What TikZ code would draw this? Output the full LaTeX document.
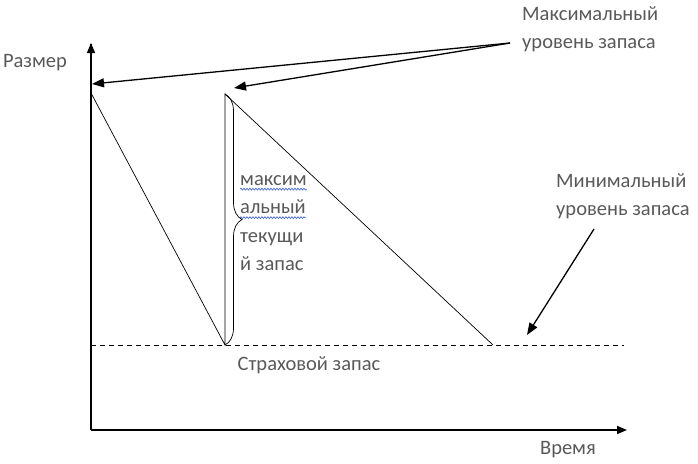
\documentclass[tikz,border=0pt]{standalone}
\usepackage{fontspec}
\setmainfont{Carlito}
\usepackage{tikz}
\usetikzlibrary{arrows.meta,decorations.pathreplacing,decorations.pathmorphing}

\definecolor{labelgray}{HTML}{595959}
\definecolor{spellblue}{HTML}{4A6CD4}

% wavy spell-check underline
\newcommand\spellwave[1]{\tikz[baseline=(w.base)]{\node[inner sep=0pt] (w) {#1};
	\draw[overlay, spellblue, line width=0.7pt, decorate, decoration={snake, amplitude=0.9pt, segment length=3pt}]
		([yshift=-4pt]w.base west) -- ([yshift=-4pt]w.base east);}}

\begin{document}
\begin{tikzpicture}[
		x=1pt, y=-1pt,
		axis/.style={line width=1.3pt, -{Triangle[length=10pt, width=8pt]}},
		pointer/.style={line width=1.3pt, -{Triangle[length=12pt, width=9pt]}},
		stockline/.style={line width=0.7pt},
		safety/.style={line width=0.8pt, dash pattern=on 5pt off 4pt},
		label/.style={text=labelgray, font=\fontsize{20.5}{28.5}\selectfont, inner sep=0pt, align=left},
	]
		\useasboundingbox (0,0) rectangle (698,463);

		% points
		\coordinate (origin)	at (91,430);
		\coordinate (ytop)		at (91,44);
		\coordinate (xend)		at (627,430);
		\coordinate (peak1)		at (91,93);
		\coordinate (low1)		at (225,345);
		\coordinate (peak2)		at (225,94);
		\coordinate (low2)		at (493,345);
		\coordinate (safeL)		at (91,345);
		\coordinate (safeR)		at (624,345);
		\coordinate (maxfrom)	at (510,43);
		\coordinate (maxto1)	at (92,84);
		\coordinate (maxto2)	at (234,88);
		\coordinate (minfrom)	at (594,229);
		\coordinate (minto)		at (527,335);

		% nodes
		\node[label] (size)		at (35,63)						{Размер};
		\node[label] (time)		at (568,450)					{Время};
		\node[label, anchor=west] (maxlevel) at (522,29)		{Максимальный\\уровень запаса};
		\node[label, anchor=west] (minlevel) at (556,196)		{Минимальный\\уровень запаса};
		\node[label, anchor=north west] (current) at (240,175)	{\spellwave{максим}\\\spellwave{альный}\\текущи\\й запас};
		\node[label] (safestock)	at (309,365)					{Страховой запас};

		% lines
		\draw[line width=1.3pt] (origin) -- (ytop);
		\draw[axis] (ytop) -- ++(0,-1);
		\draw[axis] (origin) -- (xend);
		\draw[safety] (safeL) -- (safeR);
		\draw[stockline] (peak1) -- (low1) -- (peak2) -- (low2);
		\draw[stockline, decorate, decoration={brace, amplitude=17pt}] (peak2) -- (low1);
		\draw[pointer] (maxfrom) -- (maxto1);
		\draw[pointer] (maxfrom) -- (maxto2);
		\draw[pointer] (minfrom) -- (minto);
\end{tikzpicture}
\end{document}
